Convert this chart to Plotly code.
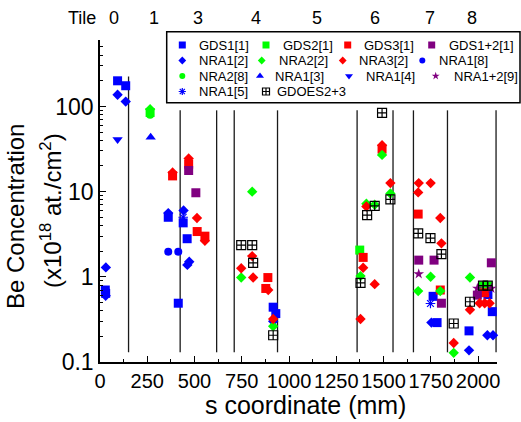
import plotly.graph_objects as go

# ---------------- data ----------------
tile_bounds = [151, 424, 617, 710, 939, 1360, 1550, 1658, 1838, 2095]
tile_line_top = [225, 90, 90, 90, 90, 90, 90, 90, 90, 90]
tile_line_bottom = 0.13
tile_names = ["0", "1", "3", "4", "5", "6", "7", "8"]
tile_centers = [75, 287, 520, 825, 1150, 1455, 1748, 1969]

x_tickvals = [0, 250, 500, 750, 1000, 1250, 1500, 1750, 2000]
y_tickvals = [0.1, 1, 10, 100]
y_ticktext = ["0.1", "1", "10", "100"]

gds1_x = [93, 136, 28, 30, 361, 440, 461, 414, 916, 930, 1762, 1783, 1952, 2052, 2075]
gds1_y = [200, 175, 0.70, 0.64, 5.0, 4.3, 2.8, 0.49, 0.44, 0.37, 0.59, 0.29, 0.232, 0.62, 0.39]

gds2_x = [265, 1374, 2026, 2051]
gds2_y = [85, 2.06, 0.78, 0.78]

gds3_x = [384, 469, 514, 555, 888, 877, 1492, 1392, 1683, 1800, 2035]
gds3_y = [15.3, 21, 3.4, 3.0, 0.98, 0.73, 31.5, 1.69, 5.45, 0.70, 0.65]

gds12_x = [469, 507, 1686, 1767, 1806, 2070, 1996]
gds12_y = [17.7, 9.7, 1.57, 1.57, 0.49, 1.46, 0.61]

nra1_2_x = [93, 136, 31, 30, 361, 442, 462, 472, 916, 1753, 1952, 2049, 2079]
nra1_2_y = [137, 114, 1.29, 0.60, 5.6, 6.0, 1.38, 1.5, 0.30, 0.29, 0.137, 0.206, 0.206]

nra2_2_x = [265, 805, 747, 916, 1492, 1536, 1453, 1409, 1378, 1749, 1683, 1800, 1871, 1957]
nra2_2_y = [93, 10.0, 0.98, 0.263, 27, 9.5, 7.0, 7.2, 1.02, 1.0, 0.68, 0.68, 0.128, 0.98]

nra3_2_x = [384, 469, 513, 555, 805, 747, 810, 890, 916, 1492, 1536, 1409, 1392, 1453, 1378,
            1686, 1749, 1683, 1800, 1806, 1871, 1957, 2008, 2035, 2061]
nra3_2_y = [16.8, 24.5, 4.9, 2.65, 1.75, 1.26, 0.98, 0.70, 0.32, 35, 12.6, 6.7, 1.28, 0.82, 0.32,
            12.6, 12.6, 9.8, 4.9, 2.47, 0.167, 0.41, 0.49, 0.49, 0.49]

nra1_8_x = [361, 414]
nra1_8_y = [1.97, 1.97]

nra2_8_x = [265]
nra2_8_y = [80]

nra1_3_x = [268]
nra1_3_y = [43.5]

nra1_4_x = [93]
nra1_4_y = [41]

nra12_9_x = [1686, 1996, 2070]
nra12_9_y = [1.08, 0.73, 0.73]

nra1_5_x = [440, 1748]
nra1_5_y = [5.0, 0.486]

gdoes_x = [747, 805, 810, 916, 1492, 1536, 1453, 1413, 1378, 1683, 1748, 1806, 1871, 1957, 2026, 2051]
gdoes_y = [2.36, 2.36, 1.46, 0.206, 84, 8.1, 6.8, 5.3, 0.85, 3.24, 2.85, 1.85, 0.283, 0.51, 0.79, 0.79]

series = [
    ("GDS1[1]", gds1_x, gds1_y, "square", "#0000FF", 9),
    ("GDS2[1]", gds2_x, gds2_y, "square", "#00FF00", 9),
    ("GDS3[1]", gds3_x, gds3_y, "square", "#FF0000", 9),
    ("GDS1+2[1]", gds12_x, gds12_y, "square", "#800080", 9),
    ("NRA1[2]", nra1_2_x, nra1_2_y, "diamond", "#0000FF", 8),
    ("NRA2[2]", nra2_2_x, nra2_2_y, "diamond", "#00FF00", 8),
    ("NRA3[2]", nra3_2_x, nra3_2_y, "diamond", "#FF0000", 8),
    ("NRA1[8]", nra1_8_x, nra1_8_y, "circle", "#0000FF", 8),
    ("NRA2[8]", nra2_8_x, nra2_8_y, "circle", "#00FF00", 8),
    ("NRA1[3]", nra1_3_x, nra1_3_y, "triangle-up", "#0000FF", 9),
    ("NRA1[4]", nra1_4_x, nra1_4_y, "triangle-down", "#0000FF", 9),
    ("NRA1+2[9]", nra12_9_x, nra12_9_y, "star", "#800080", 8),
    ("NRA1[5]", nra1_5_x, nra1_5_y, "asterisk-open", "#0000FF", 8),
    ("GDOES2+3", gdoes_x, gdoes_y, "square-cross-open", "#000000", 9),
]

# ---------------- layout constants (pixels) ----------------
W, H = 521, 422
L, R, T, B = 100, 24, 40, 60
PW, PH = W - L - R, H - T - B
FONT = "Liberation Sans, Arial, sans-serif"


def px_x(px):
    return (px - L) / PW


def px_y(py):
    return (H - B - py) / PH


# legend layout: rows of (series index, symbol px, text px)
legend_rows_y = [45, 60.5, 76, 91.5]
legend_rows = [
    [(0, 182.3, 196.7), (1, 266, 280.7), (2, 347.7, 361.7), (3, 431.7, 447.3)],
    [(4, 182.3, 196.7), (5, 261.7, 276.7), (6, 342.7, 357.3), (7, 422.3, 437.3)],
    [(8, 182.3, 196.7), (9, 260, 273.3), (10, 349, 364), (11, 435.7, 451.7)],
    [(12, 182.3, 196.7), (13, 266, 275)],
]

fig = go.Figure()

# tile boundary lines
lx, ly = [], []
for b, top in zip(tile_bounds, tile_line_top):
    lx += [b, b, None]
    ly += [tile_line_bottom, top, None]
fig.add_trace(go.Scatter(x=lx, y=ly, mode="lines", line=dict(color="#1a1a1a", width=1.3),
                         showlegend=False, hoverinfo="skip"))


def marker_dict(sym, col, size):
    if sym.endswith("-open"):
        return dict(symbol=sym, size=size, color=col, line=dict(color=col, width=1.2))
    return dict(symbol=sym, size=size, color=col, line=dict(width=0))


for name, xs, ys, sym, col, size in series:
    fig.add_trace(go.Scatter(x=xs, y=ys, mode="markers", name=name,
                             marker=marker_dict(sym, col, size), showlegend=False,
                             cliponaxis=False))

# manual legend on overlay pixel axes
annotations = []
for ry, row in zip(legend_rows_y, legend_rows):
    for idx, sx, tx in row:
        name, xs, ys, sym, col, size = series[idx]
        fig.add_trace(go.Scatter(x=[sx], y=[ry], xaxis="x2", yaxis="y2", mode="markers",
                                 marker=marker_dict(sym, col, size - 2), showlegend=False,
                                 hoverinfo="skip", cliponaxis=False))
        annotations.append(dict(x=tx, y=ry, xref="x2", yref="y2", text=name, showarrow=False,
                                xanchor="left", yanchor="middle",
                                font=dict(family=FONT, size=13, color="black")))

# tile labels
annotations.append(dict(x=px_x(82), y=px_y(18), xref="paper", yref="paper", text="Tile",
                        showarrow=False, xanchor="center", yanchor="middle",
                        font=dict(family=FONT, size=18, color="black")))
for nm, cx in zip(tile_names, tile_centers):
    annotations.append(dict(x=cx, y=px_y(18), xref="x", yref="paper", text=nm,
                            showarrow=False, xanchor="center", yanchor="middle",
                            font=dict(family=FONT, size=18, color="black")))

# axis titles
annotations.append(dict(x=px_x(305), y=px_y(405), xref="paper", yref="paper",
                        text="s coordinate (mm)", showarrow=False, xanchor="center",
                        yanchor="middle", font=dict(family=FONT, size=25, color="black")))
annotations.append(dict(x=px_x(15), y=px_y(217), xref="paper", yref="paper",
                        text="Be Concentration", showarrow=False, textangle=-90,
                        xanchor="center", yanchor="middle",
                        font=dict(family=FONT, size=24, color="black")))
annotations.append(dict(x=px_x(51), y=px_y(211), xref="paper", yref="paper",
                        text="(x10<sup>18</sup> at./cm<sup>2</sup>)", showarrow=False,
                        textangle=-90, xanchor="center", yanchor="middle",
                        font=dict(family=FONT, size=24, color="black")))

fig.update_layout(
    width=W, height=H,
    margin=dict(l=L, r=R, t=T, b=B, pad=0),
    paper_bgcolor="white", plot_bgcolor="white",
    font=dict(family=FONT, color="black"),
    showlegend=False,
    xaxis=dict(range=[0, 2100], tickvals=x_tickvals, showline=True, linecolor="black",
               linewidth=1.5, ticks="inside", ticklen=6, tickwidth=1.3, tickcolor="black",
               showgrid=False, zeroline=False, mirror=False,
               tickfont=dict(family=FONT, size=20, color="black"),
               minor=dict(dtick=125, ticks="inside", ticklen=3, tickwidth=1.2,
                          tickcolor="black", showgrid=False)),
    yaxis=dict(type="log", range=[-1, 2.78], tickvals=y_tickvals, ticktext=y_ticktext,
               showline=True, linecolor="black", linewidth=1.5, ticks="inside", ticklen=6,
               tickwidth=1.3, tickcolor="black", showgrid=False, zeroline=False, mirror=False,
               tickfont=dict(family=FONT, size=23, color="black"),
               minor=dict(dtick="D1", ticks="inside", ticklen=3, tickwidth=1.2,
                          tickcolor="black", showgrid=False)),
    xaxis2=dict(overlaying="x", anchor="y2", range=[L, L + PW], visible=False,
                domain=[0, 1]),
    yaxis2=dict(overlaying="y", anchor="x2", range=[H - B, T], visible=False),
    annotations=annotations,
    shapes=[dict(type="rect", xref="paper", yref="paper",
                 x0=px_x(166.7), x1=px_x(520), y0=px_y(102.7), y1=px_y(31.7),
                 line=dict(color="black", width=1.5), fillcolor="rgba(0,0,0,0)",
                 layer="above")],
)

fig.write_html("out.html")
